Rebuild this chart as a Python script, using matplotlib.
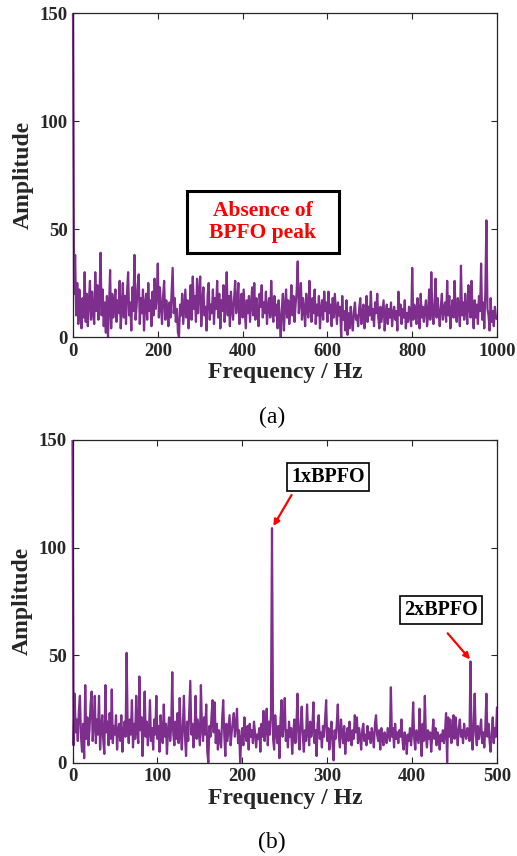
import numpy as np
import matplotlib
matplotlib.use("Agg")
import matplotlib.pyplot as plt
from matplotlib.patches import Rectangle

# ---------------- data ----------------
freq_a_step = 2.5
amp_a = [
    150, 20, 38, 10, 25, 6, 22, 12, 4, 18, 9, 30, 7, 20, 5, 17, 26, 8, 21, 11,
    6, 30, 12, 24, 8, 18, 39, 10, 22, 5, 16, 2, 19, 0, 14, 31, 4, 20, 9, 15,
    22, 7, 17, 11, 26, 4, 13, 25, 9, 19, 6, 21, 30, 10, 16, 3, 23, 12, 38, 8,
    14, 24, 29, 6, 18, 11, 22, 3, 15, 20, 8, 25, 12, 17, 5, 21, 10, 27, 13, 19,
    34, 9, 23, 14, 6, 19, 26, 8, 17, 12, 5, 16, 9, 21, 32, 11, 18, 7, 13, 2,
    0, 15, 10, 20, 6, 14, 22, 9, 17, 4, 12, 24, 8, 28, 13, 19, 7, 27, 11, 21,
    28, 5, 16, 23, 10, 14, 3, 19, 25, 8, 15, 11, 22, 6, 18, 13, 26, 9, 20, 4,
    17, 12, 24, 7, 15, 30, 10, 19, 5, 21, 13, 8, 18, 26, 11, 16, 25, 6, 14, 20,
    9, 22, 13, 4, 17, 11, 19, 7, 15, 23, 10, 25, 8, 18, 12, 5, 20, 14, 24, 9,
    16, 11, 21, 6, 14, 18, 9, 26, 12, 7, 19, 10, 15, 4, 17, 8, 0, 13, 20, 3,
    14, 22, 9, 17, 6, 12, 24, 10, 19, 7, 15, 21, 35, 11, 16, 25, 8, 18, 13, 5,
    20, 12, 9, 26, 14, 7, 18, 11, 22, 6, 15, 10, 19, 4, 13, 17, 8, 21, 12, 16,
    7, 21, 11, 15, 5, 18, 9, 20, 13, 6, 16, 10, 14, 0, 19, 8, 12, 3, 17, 1,
    11, 4, 14, 7, 3, 12, 16, 8, 10, 5, 13, 18, 6, 11, 15, 4, 9, 19, 7, 14,
    10, 21, 8, 13, 5, 16, 11, 20, 9, 4, 14, 7, 12, 17, 3, 10, 15, 6, 13, 9,
    16, 5, 11, 14, 8, 12, 3, 21, 10, 15, 6, 13, 9, 17, 4, 11, 7, 14, 10, 5,
    32, 8, 15, 11, 6, 18, 12, 4, 20, 9, 14, 7, 13, 17, 5, 10, 22, 8, 30, 12,
    6, 15, 27, 9, 18, 11, 5, 14, 20, 8, 13, 16, 7, 26, 10, 19, 4, 12, 17, 9,
    26, 11, 7, 18, 13, 5, 33, 10, 16, 8, 20, 12, 6, 24, 14, 9, 26, 11, 4, 17,
    9, 15, 6, 19, 12, 34, 8, 16, 4, 21, 54, 13, 10, 3, 18, 7, 12, 5, 14, 9,
    8,
]

freq_b_step = 1.25
amp_b = [
    150, 8, 32, 14, 20, 10, 24, 31, 12, 5, 18, 2, 36, 11, 21, 8, 15, 27, 33, 10,
    17, 31, 9, 20, 13, 31, 6, 16, 22, 10, 4, 36, 14, 19, 8, 23, 11, 34, 9, 17,
    13, 22, 6, 15, 18, 10, 22, 5, 14, 19, 12, 51, 16, 9, 20, 13, 29, 7, 18, 11,
    31, 14, 9, 40, 15, 21, 3, 17, 33, 12, 19, 8, 14, 29, 10, 16, 6, 20, 13, 31,
    11, 17, 5, 22, 14, 9, 27, 12, 18, 4, 15, 21, 10, 16, 42, 13, 8, 19, 11, 23,
    9, 30, 14, 6, 17, 31, 12, 3, 19, 10, 24, 38, 13, 18, 7, 15, 31, 11, 20, 14,
    8, 36, 16, 10, 21, 13, 27, 5, 0, 17, 12, 22, 29, 14, 28, 9, 18, 6, 15, 11,
    7, 20, 29, 13, 3, 18, 10, 16, 22, 8, 14, 19, 23, 12, 17, 25, 9, 15, 0, 11,
    16, 8, 21, 13, 10, 17, 6, 18, 12, 15, 9, 19, 14, 7, 13, 11, 16, 5, 18, 12,
    24, 10, 15, 25, 8, 19, 13, 22, 109, 11, 6, 22, 14, 9, 17, 2, 20, 29, 12, 18,
    30, 10, 15, 7, 19, 12, 16, 4, 13, 20, 9, 17, 32, 11, 6, 18, 26, 13, 5, 15,
    10, 27, 14, 8, 19, 12, 16, 28, 9, 15, 3, 18, 22, 11, 14, 7, 17, 12, 20, 29,
    10, 16, 6, 13, 19, 9, 1, 15, 11, 18, 27, 12, 7, 20, 14, 9, 17, 4, 12, 16,
    10, 19, 13, 8, 15, 11, 22, 14, 21, 9, 16, 12, 6, 15, 18, 10, 13, 8, 17, 11,
    14, 9, 16, 12, 7, 18, 22, 13, 10, 15, 6, 16, 11, 8, 14, 12, 9, 16, 13, 10,
    35, 12, 16, 7, 18, 11, 14, 9, 15, 12, 20, 10, 6, 14, 12, 4, 13, 10, 16, 8,
    14, 28, 11, 6, 15, 12, 9, 25, 13, 3, 18, 10, 31, 12, 7, 15, 11, 14, 5, 13,
    20, 11, 16, 8, 14, 12, 6, 13, 10, 15, 9, 14, 23, 0, 21, 12, 20, 9, 14, 22,
    11, 21, 14, 8, 16, 20, 12, 15, 9, 18, 13, 11, 16, 14, 10, 47, 12, 6, 18, 32,
    13, 8, 17, 11, 15, 20, 9, 14, 7, 16, 32, 12, 18, 10, 5, 14, 21, 9, 16, 12,
    26,
]

freq_a = np.arange(len(amp_a)) * freq_a_step
freq_b = np.arange(len(amp_b)) * freq_b_step

xticks_a = [0, 200, 400, 600, 800, 1000]
xticks_b = [0, 100, 200, 300, 400, 500]
yticks = [0, 50, 100, 150]

# ---------------- style ----------------
FONT = "Liberation Serif"
plt.rcParams["font.family"] = FONT
plt.rcParams["font.weight"] = "bold"
LINE_COLOR = "#7E2F8E"
TXT = "#262626"

W, H = 517, 856
fig = plt.figure(figsize=(W / 100, H / 100), dpi=100)


def px_axes(l, t, r, b):
    return fig.add_axes([l / W, 1 - b / H, (r - l) / W, (b - t) / H])


def style(ax, xticks, xmax):
    ax.set_xlim(0, xmax)
    ax.set_ylim(0, 150)
    ax.set_xticks(xticks)
    ax.set_yticks(yticks)
    ax.tick_params(direction="in", length=4, width=0.8, top=True, right=True,
                   labelsize=13.5, colors=TXT, pad=4)
    for lab in ax.get_xticklabels() + ax.get_yticklabels():
        lab.set_fontweight("bold")
        lab.set_color(TXT)
    for s in ax.spines.values():
        s.set_linewidth(0.9)
        s.set_color(TXT)
    ax.set_xlabel("Frequency / Hz", fontsize=17, fontweight="bold", color=TXT, labelpad=2)
    ax.set_ylabel("Amplitude", fontsize=17, fontweight="bold", color=TXT, labelpad=4)


def label_box(ax, text, x, y, start, end):
    ax.text(x, y, text, fontsize=14.5, fontweight="bold", ha="center",
            va="center", color="black", zorder=5,
            bbox=dict(boxstyle="square,pad=0.2", fc="white", ec="black", lw=1.2))
    ax.annotate("", xy=end, xytext=start,
                arrowprops=dict(arrowstyle="-|>", color="red", lw=1.6,
                                mutation_scale=9, shrinkA=0, shrinkB=0),
                zorder=5)


# ---------------- (a) ----------------
ax1 = px_axes(73, 13, 497, 337)
ax1.plot(freq_a, amp_a, color=LINE_COLOR, lw=1.6, clip_on=False,
         solid_capstyle="butt")
style(ax1, xticks_a, 1000)
# annotation box with slight shadow
ax1.add_patch(Rectangle((273, 37.9), 359, 28.7, fc="#9a9a9a", ec="none", zorder=4))
ax1.add_patch(Rectangle((268, 38.9), 359, 28.7, fc="white", ec="black", lw=2.2, zorder=4.5))
ax1.text(447.5, 53.2, "Absence of\nBPFO peak", color="red", fontsize=15.5,
         fontweight="bold", ha="center", va="center", linespacing=1.1, zorder=5)
fig.text(272 / W, 1 - 417 / H, "(a)", fontsize=17, fontweight="normal",
         ha="center", va="center", color="black")

# ---------------- (b) ----------------
ax2 = px_axes(72.5, 440, 497, 762.5)
ax2.plot(freq_b, amp_b, color=LINE_COLOR, lw=1.6, clip_on=False,
         solid_capstyle="butt")
style(ax2, xticks_b, 500)
label_box(ax2, "1xBPFO", 301, 133, start=(258, 124.4), end=(236.6, 110))
label_box(ax2, "2xBPFO", 434.5, 71, start=(441.9, 60.1), end=(468.2, 48))
fig.text(272 / W, 1 - 842 / H, "(b)", fontsize=17, fontweight="normal",
         ha="center", va="center", color="black")

fig.savefig("out.png", dpi=100)
